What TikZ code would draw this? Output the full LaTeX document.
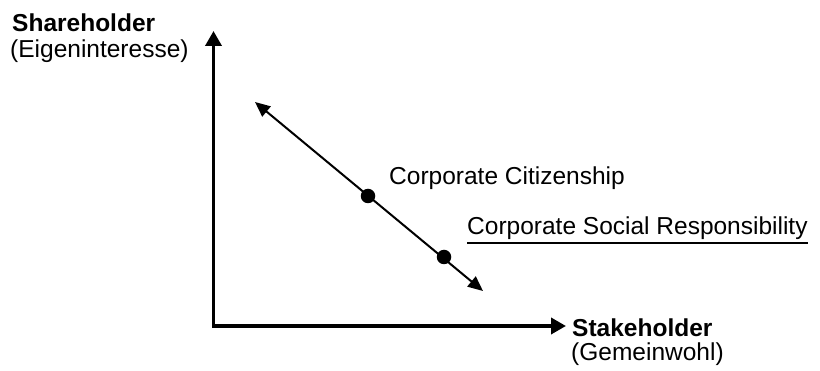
\documentclass[tikz,border=0pt]{standalone}
\usepackage{fontspec}
\setmainfont{Liberation Sans}
\usepackage{tikz}
\usetikzlibrary{arrows.meta}

\begin{document}
\begin{tikzpicture}[x=1pt,y=-1pt,
		txt/.style={anchor=base west, inner sep=0pt, font=\fontsize{24.5}{28}\selectfont},
		axis/.style={line width=3.6pt, {Triangle[length=15pt,width=16pt]}-{Triangle[length=15pt,width=16pt]}},
		dot/.style={circle, fill=black, inner sep=0pt, minimum size=14.5pt}
	]
	\useasboundingbox (0,0) rectangle (820,371);

	\coordinate (top) at (213.5,31);
	\coordinate (corner) at (213.5,326);
	\coordinate (right) at (566,326);
	\draw[axis] (top) -- (corner) -- (right);

	\coordinate (upper) at (255,102);
	\coordinate (lower) at (483,291);
	\draw[line width=2pt, {Triangle[length=15pt,width=13pt]}-{Triangle[length=15pt,width=13pt]}] (upper) -- (lower);

	\node[dot] (cc) at (368,196) {};
	\node[dot] (csr) at (444,257) {};

	\node[txt] (share) at (12,32) {\textbf{Shareholder}};
	\node[txt] (eigen) at (10,58) {(Eigeninteresse)};

	\node[txt] (stake) at (572,337) {\textbf{Stakeholder}};
	\node[txt] (gemein) at (571,361) {(Gemeinwohl)};

	\node[txt] (cctext) at (389,185) {Corporate Citizenship};
	\node[txt] (csrtext) at (467,235) {Corporate Social Responsibility};
	\draw[line width=1.6pt] ([yshift=-8pt]csrtext.base west) -- ([yshift=-8pt]csrtext.base east);
\end{tikzpicture}
\end{document}
